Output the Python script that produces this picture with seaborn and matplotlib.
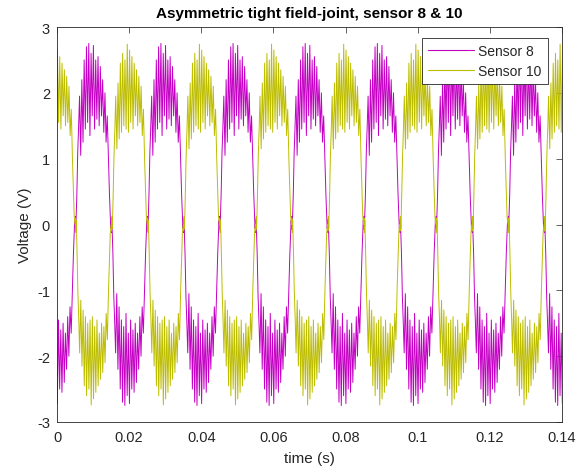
import numpy as np
import pandas as pd
import matplotlib
matplotlib.use("Agg")
import matplotlib.pyplot as plt
import seaborn as sns

# ---- data ----
# start time of each half-cycle (zero crossings), s
half_starts = [-0.005, 0.005, 0.015, 0.025, 0.035, 0.045, 0.055, 0.065,
               0.075, 0.085, 0.095, 0.105, 0.115, 0.125, 0.135]
half_len = 0.01
# polarity of each half-cycle for sensor 8 (sensor 10 is the opposite)
signs_s8 = [-1, 1, -1, 1, -1, 1, -1, 1, -1, 1, -1, 1, -1, 1, -1]
signs_s10 = [1, -1, 1, -1, 1, -1, 1, -1, 1, -1, 1, -1, 1, -1, 1]

frac_s8 = [0.000, 0.010, 0.020, 0.030, 0.050, 0.075, 0.100,
           0.125, 0.157, 0.189, 0.221, 0.253, 0.285, 0.317, 0.349,
           0.381, 0.413, 0.445, 0.477, 0.509, 0.541, 0.573, 0.605,
           0.637, 0.669, 0.701, 0.733, 0.765, 0.797, 0.829, 0.861,
           0.893, 0.925, 0.955, 0.975, 0.990]
volt_s8 = [0.00, 0.12, -0.08, 0.10, 0.45, 1.10, 1.50,
           1.95, 1.05, 2.20, 1.25, 2.50, 1.45, 2.70, 1.55,
           2.75, 1.35, 2.60, 1.65, 2.72, 1.45, 2.50, 1.60,
           2.55, 1.50, 2.40, 1.65, 2.20, 1.40, 2.00, 1.25,
           1.65, 1.00, 0.45, 0.15, -0.06]

frac_s10 = [0.000, 0.012, 0.022, 0.034, 0.055, 0.080, 0.104,
            0.128, 0.160, 0.192, 0.224, 0.256, 0.288, 0.320, 0.352,
            0.384, 0.416, 0.448, 0.480, 0.512, 0.544, 0.576, 0.608,
            0.640, 0.672, 0.704, 0.736, 0.768, 0.800, 0.832, 0.864,
            0.896, 0.928, 0.957, 0.977, 0.991]
volt_s10 = [0.00, -0.10, 0.12, -0.06, 0.40, 1.05, 1.45,
            1.95, 1.15, 2.15, 1.30, 2.45, 1.40, 2.60, 1.50,
            2.50, 1.45, 2.74, 1.40, 2.65, 1.55, 2.55, 1.45,
            2.45, 1.65, 2.35, 1.50, 2.25, 1.55, 2.10, 1.35,
            1.75, 1.00, 0.45, 0.12, 0.05]

x_ticks = [0, 0.02, 0.04, 0.06, 0.08, 0.1, 0.12, 0.14]
x_tick_labels = ["0", "0.02", "0.04", "0.06", "0.08", "0.1", "0.12", "0.14"]
y_ticks = [-3, -2, -1, 0, 1, 2, 3]
y_tick_labels = ["-3", "-2", "-1", "0", "1", "2", "3"]


def build(signs, frac, volt, name):
    ts, vs = [], []
    for start, s in zip(half_starts, signs):
        for f, v in zip(frac, volt):
            ts.append(start + f * half_len)
            vs.append(s * v)
    ts.append(half_starts[-1] + half_len)
    vs.append(0.0)
    return pd.DataFrame({"time": ts, "voltage": vs, "sensor": name})


df = pd.concat([build(signs_s8, frac_s8, volt_s8, "Sensor 8"),
                build(signs_s10, frac_s10, volt_s10, "Sensor 10")],
               ignore_index=True)

sns.set_style("white")
plt.rcParams["font.family"] = ["Liberation Sans", "DejaVu Sans"]
plt.rcParams["axes.unicode_minus"] = False
axis_col = "#262626"

fig = plt.figure(figsize=(5.84, 4.77), dpi=100)
ax = fig.add_axes([57 / 584, 1 - 423 / 477, 505 / 584, 395 / 477])

sns.lineplot(data=df, x="time", y="voltage", hue="sensor",
             palette={"Sensor 8": "#c400c4", "Sensor 10": "#bdbd00"},
             sort=False, estimator=None, linewidth=0.7, ax=ax)

ax.set_xlim(0, 0.14)
ax.set_ylim(-3, 3)
ax.set_xticks(x_ticks)
ax.set_xticklabels(x_tick_labels)
ax.set_yticks(y_ticks)
ax.set_yticklabels(y_tick_labels)
ax.tick_params(direction="in", length=4, width=0.5, colors=axis_col,
               labelsize=10.5, top=True, right=True)
ax.tick_params(axis="x", pad=6)
ax.tick_params(axis="y", pad=5)
for sp in ax.spines.values():
    sp.set_visible(True)
    sp.set_linewidth(0.6)
    sp.set_color(axis_col)

ax.set_xlabel("time (s)", fontsize=11, color=axis_col, labelpad=5)
ax.set_ylabel("Voltage (V)", fontsize=11, color=axis_col, labelpad=4)
ax.set_title("Asymmetric tight field-joint, sensor 8 & 10", fontsize=11,
             fontweight="bold", color="black", pad=7)

leg = ax.legend(loc="upper right", bbox_to_anchor=(0.972, 0.973),
                fontsize=10, frameon=True, fancybox=False,
                borderpad=0.45, labelspacing=0.45, handlelength=3.3,
                handletextpad=0.3, borderaxespad=0)
leg.get_frame().set_edgecolor(axis_col)
leg.get_frame().set_linewidth(0.6)
leg.get_frame().set_alpha(1)
for line in leg.get_lines():
    line.set_linewidth(0.8)

fig.savefig("out.png", dpi=100)
